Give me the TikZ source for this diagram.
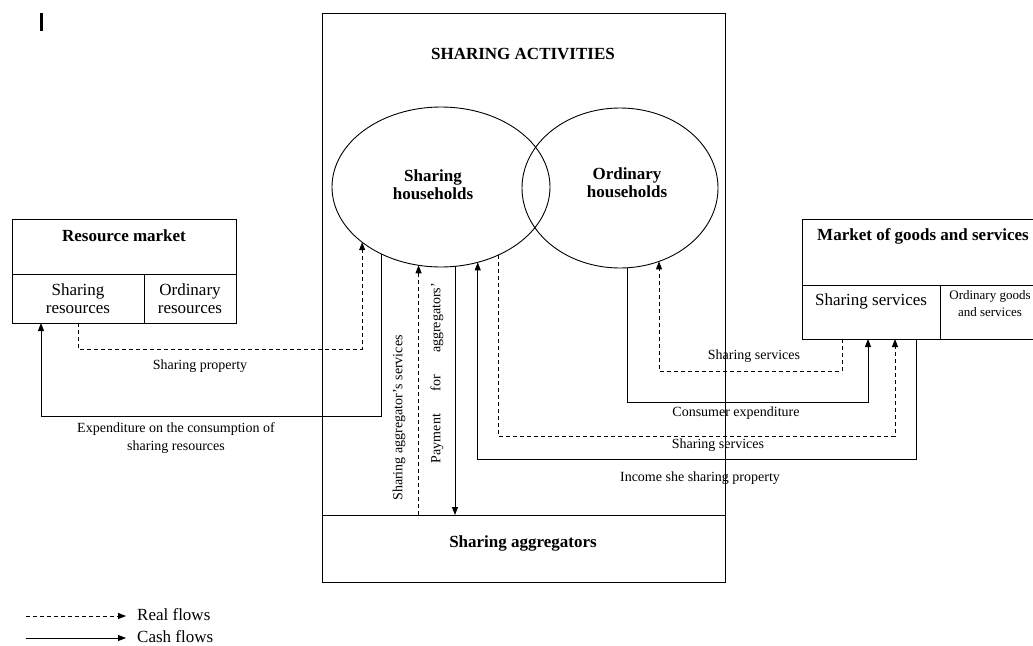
\documentclass[tikz,border=0pt]{standalone}
\usepackage{fontspec}
\setmainfont{Liberation Serif}
\usetikzlibrary{arrows.meta,shapes.geometric}
\tikzset{
  boxn/.style={draw, line width=0.9pt, inner sep=0pt, outer sep=0pt, anchor=north west},
  ell/.style={draw, ellipse, line width=0.9pt, inner sep=0pt, outer sep=0pt},
  bigt/.style={font=\fontsize{17}{18}\selectfont\bfseries, align=center, inner sep=1pt},
  cellt/.style={font=\fontsize{17}{18}\selectfont, align=center, inner sep=1pt},
  smallt/.style={font=\fontsize{13}{17}\selectfont, align=center, inner sep=1pt},
  lab/.style={font=\fontsize{14}{18}\selectfont, align=center, inner sep=1pt},
  tip/.style={-{Triangle[length=8pt,width=6pt]}},
  real/.style={tip, line width=0.8pt, dash pattern=on 4pt off 3pt},
  cash/.style={tip, line width=0.8pt},
}
\begin{document}
\begin{tikzpicture}[x=1pt,y=-1pt]
\useasboundingbox (0,0) rectangle (1033,645);
\fill (40,12.5) rectangle (43.3,31);

% central block
\node[boxn, minimum width=403, minimum height=502] (act) at (322,13) {};
\node[boxn, minimum width=403, minimum height=67] (agg) at (322,515) {};
\node[bigt] (actt) at (523,54) {SHARING ACTIVITIES};
\node[bigt] (aggt) at (523,543) {Sharing aggregators};

\node[ell, minimum width=218, minimum height=160] (sh) at (441,187) {};
\node[ell, minimum width=196, minimum height=160] (oh) at (620,188) {};
\node[bigt] (sht) at (433,185) {Sharing\\households};
\node[bigt] (oht) at (627,183) {Ordinary\\households};

% resource market
\node[boxn, minimum width=224, minimum height=55] (rm) at (12,219) {};
\node[bigt] (rmt) at (124,236) {Resource market};
\node[boxn, minimum width=132, minimum height=49] (sr) at (12,274) {};
\node[boxn, minimum width=92, minimum height=49] (or) at (144,274) {};
\node[cellt] (srt) at (78,299) {Sharing\\resources};
\node[cellt] (ort) at (190,299) {Ordinary\\resources};

% market of goods and services
\node[boxn, minimum width=240, minimum height=66] (mg) at (802,219) {};
\node[bigt] (mgt) at (923,236) {Market of goods and services};
\node[boxn, minimum width=138, minimum height=54] (ss) at (802,285) {};
\node[boxn, minimum width=102, minimum height=54] (og) at (940,285) {};
\node[cellt] (sst) at (871,301) {Sharing services};
\node[smallt] (ogt) at (990,304) {Ordinary goods\\and services};

% levels
\coordinate (r1) at (0,349);
\coordinate (r2) at (0,416);
\coordinate (r3) at (0,402);
\coordinate (r4) at (0,436);
\coordinate (r5) at (0,459);
\coordinate (r6) at (0,371);

% attachment points
\coordinate (e1a) at (sh.215.7);
\coordinate (e1b) at (sh.228.6);
\coordinate (e1c) at (sh.254.2);
\coordinate (e1d) at (sh.280);
\coordinate (e1e) at (sh.296.9);
\coordinate (e1f) at (sh.310);
\coordinate (e2a) at (oh.275.7);
\coordinate (e2b) at (oh.298.7);
\coordinate (s1) at ([xshift=-29pt]ss.south);
\coordinate (s2) at ([xshift=-3pt]ss.south);
\coordinate (s3) at ([xshift=24pt]ss.south);
\coordinate (s4) at ([xshift=45pt]ss.south);
\coordinate (sr2) at ([xshift=-37pt]sr.south);

% flows
\draw[real] (sr.south) |- (e1a |- r1) -- (e1a);
\draw[cash] (e1b) |- (sr2 |- r2) -- (sr2);
\draw[real] (e1c |- agg.north) -- (e1c);
\draw[cash] (e1d) -- (e1d |- agg.north);
\draw[cash] (s4) |- (e1e |- r5) -- (e1e);
\draw[real] (e1f) |- (s3 |- r4) -- (s3);
\draw[cash] (e2a) |- (s2 |- r3) -- (s2);
\draw[real] (s1) |- (e2b |- r6) -- (e2b);

% flow labels
\node[lab] (l1) at (200,366) {Sharing property};
\node[lab] (l2) at (176,438) {Expenditure on the consumption of\\sharing resources};
\node[lab, rotate=90] (l3) at (399,418) {Sharing aggregator's services};
\node[lab, rotate=90, text width=180pt, align=left] (l4) at (437,373) {Payment\hfill for\hfill aggregators'};
\node[lab] (l5) at (754,356) {Sharing services};
\node[lab] (l6) at (736,413) {Consumer expenditure};
\node[lab] (l7) at (718,445) {Sharing services};
\node[lab] (l8) at (700,478) {Income she sharing property};

% legend
\coordinate (lg1s) at (26,616);
\coordinate (lg2s) at (26,638);
\node[cellt, anchor=west] (lg1) at (136,615) {Real flows};
\node[cellt, anchor=west] (lg2) at (136,637) {Cash flows};
\draw[real] (lg1s) -- ([xshift=-10pt]lg1.west |- lg1s);
\draw[cash] (lg2s) -- ([xshift=-10pt]lg2.west |- lg2s);
\end{tikzpicture}
\end{document}
